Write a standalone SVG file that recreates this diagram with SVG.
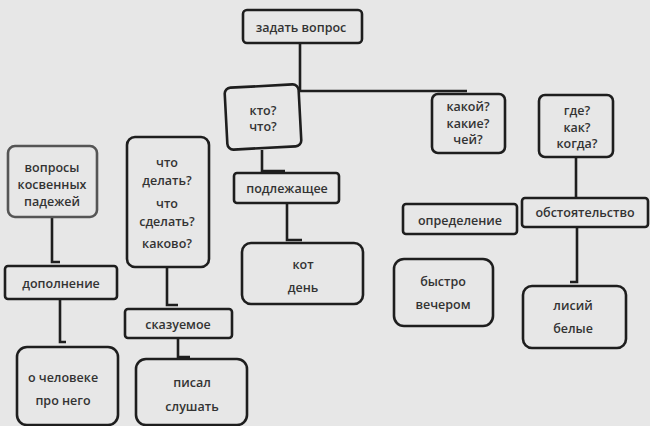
<svg xmlns="http://www.w3.org/2000/svg" width="650" height="426" viewBox="0 0 650 426">
<style>
.bg{fill:#e7e7e7}
.box{fill:#e7e7e7;stroke:#1e1e1e;stroke-width:2.6}
.box.grey{stroke:#555}
.ln{fill:none;stroke:#1e1e1e;stroke-width:2.6}
text{font-family:"Open Sans","Noto Sans",sans-serif;font-size:12.5px;font-weight:600;fill:#333;text-anchor:middle;dominant-baseline:central}
</style>
<rect class="bg" x="0" y="0" width="650" height="426"/>
<g id="connectors">
<path class="ln" d="M300,43 V91 H467"/>
<path class="ln" d="M262,150 V171 H285"/>
<path class="ln" d="M287,203 V240 H302"/>
<path class="ln" d="M52,217 V262 H60"/>
<path class="ln" d="M60,299 V342 H66"/>
<path class="ln" d="M167,267 V305 H178"/>
<path class="ln" d="M178,338 V357 H190"/>
<path class="ln" d="M576,157 V198"/>
<path class="ln" d="M577,227 V282 H570"/>
</g>
<g id="n-zadat">
<rect class="box" x="243" y="10" width="119" height="33" rx="4"/>
<text x="301" y="27">задать вопрос</text>
</g>
<g id="n-kto">
<rect class="box" x="226" y="86" width="74" height="62" rx="6" transform="rotate(-3 263 117)"/>
<text x="263" y="110">кто?</text>
<text x="263" y="126">что?</text>
</g>
<g id="n-kakoy">
<rect class="box" x="432" y="94" width="73" height="59" rx="6"/>
<text x="468" y="106">какой?</text>
<text x="468" y="123">какие?</text>
<text x="468" y="139">чей?</text>
</g>
<g id="n-gde">
<rect class="box" x="539" y="95" width="74" height="62" rx="6"/>
<text x="577" y="110">где?</text>
<text x="577" y="127">как?</text>
<text x="577" y="143">когда?</text>
</g>
<g id="n-voprosy">
<rect class="box grey" x="8" y="146" width="89" height="71" rx="7"/>
<text x="52" y="167">вопросы</text>
<text x="52" y="184">косвенных</text>
<text x="52" y="201">падежей</text>
</g>
<g id="n-chto">
<rect class="box" x="127" y="137" width="82" height="130" rx="8"/>
<text x="167" y="162">что</text>
<text x="167" y="180">делать?</text>
<text x="167" y="203">что</text>
<text x="167" y="221">сделать?</text>
<text x="167" y="243">каково?</text>
</g>
<g id="n-podl">
<rect class="box" x="234" y="173" width="105" height="30" rx="3"/>
<text x="287" y="188">подлежащее</text>
</g>
<g id="n-kot">
<rect class="box" x="242" y="243" width="121" height="61" rx="9"/>
<text x="303" y="264">кот</text>
<text x="303" y="287">день</text>
</g>
<g id="n-opr">
<rect class="box" x="403" y="204" width="114" height="30" rx="3"/>
<text x="460" y="220">определение</text>
</g>
<g id="n-obst">
<rect class="box" x="522" y="198" width="126" height="29" rx="3"/>
<text x="585" y="212">обстоятельство</text>
</g>
<g id="n-bystro">
<rect class="box" x="394" y="259" width="99" height="67" rx="10"/>
<text x="443" y="281">быстро</text>
<text x="443" y="304">вечером</text>
</g>
<g id="n-lisiy">
<rect class="box" x="523" y="286" width="103" height="62" rx="9"/>
<text x="573" y="305">лисий</text>
<text x="573" y="328">белые</text>
</g>
<g id="n-dop">
<rect class="box" x="5" y="266" width="112" height="33" rx="3"/>
<text x="61" y="283">дополнение</text>
</g>
<g id="n-chel">
<rect class="box" x="17" y="347" width="101" height="78" rx="10"/>
<text x="63" y="377">о человеке</text>
<text x="63" y="400">про него</text>
</g>
<g id="n-skaz">
<rect class="box" x="125" y="309" width="107" height="29" rx="3"/>
<text x="178" y="324">сказуемое</text>
</g>
<g id="n-pisal">
<rect class="box" x="136" y="359" width="111" height="66" rx="10"/>
<text x="192" y="382">писал</text>
<text x="192" y="406">слушать</text>
</g>
</svg>
